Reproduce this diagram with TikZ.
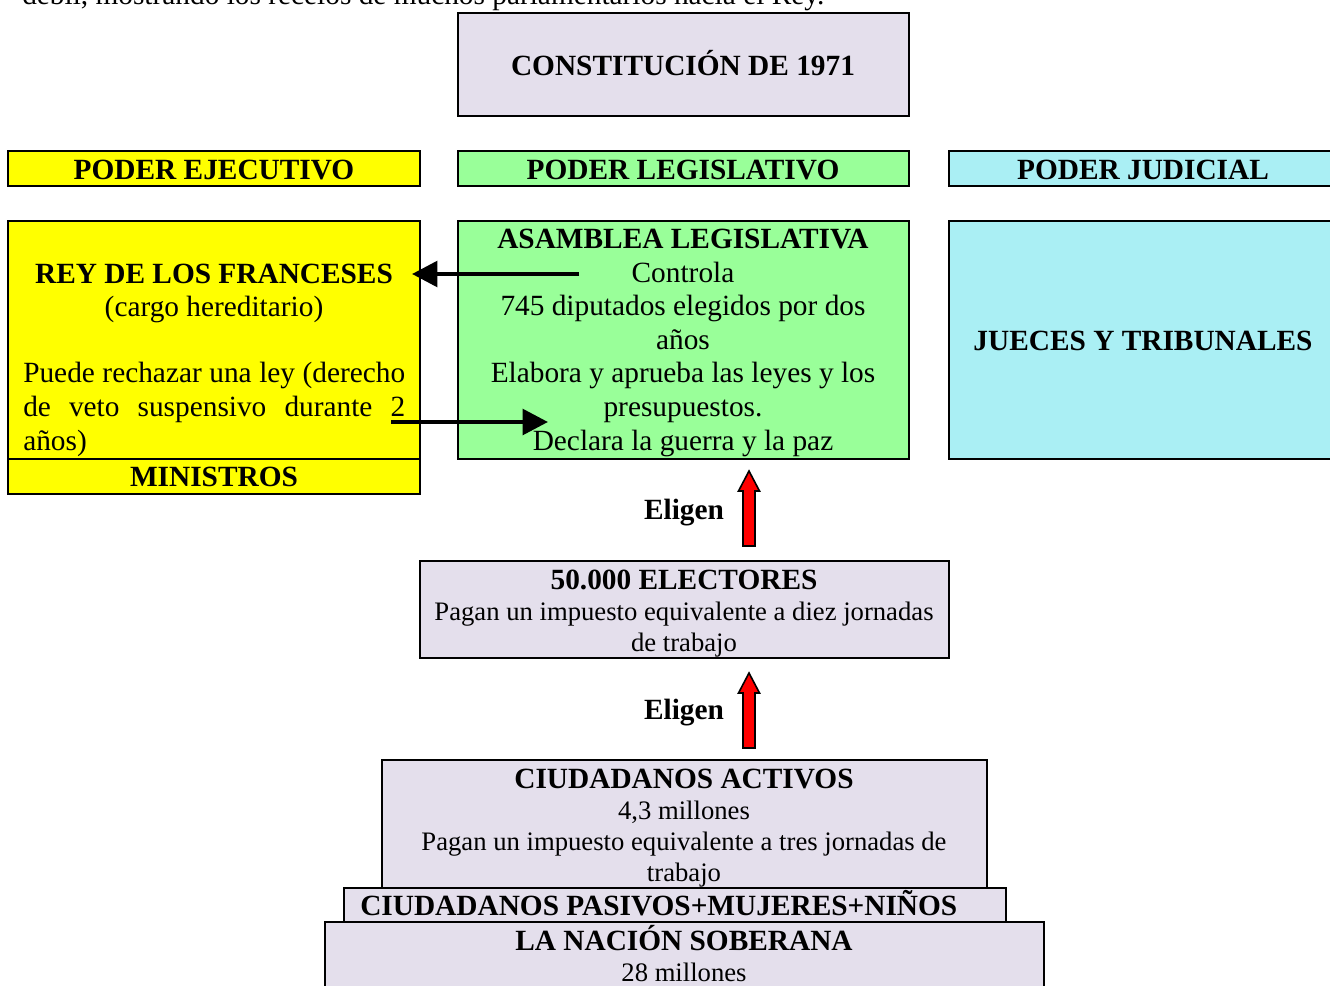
\documentclass[tikz,border=0pt]{standalone}
\usepackage{fontspec}
\setmainfont{Liberation Serif}
\usetikzlibrary{arrows.meta,fit}
\definecolor{lavanda}{HTML}{E4DFEC}
\definecolor{verde}{HTML}{99FF99}
\definecolor{celeste}{HTML}{AAEFF4}
\definecolor{amarillo}{HTML}{FFFF00}
\tikzset{
  caja/.style={draw, line width=1.4pt, inner sep=0pt},
  txt/.style={font=\fontsize{22}{25.2}\selectfont, inner sep=0pt},
  txtb/.style={font=\bfseries\fontsize{22}{25.2}\selectfont, inner sep=0pt},
  txts/.style={font=\fontsize{20}{23}\selectfont, inner sep=0pt},
  flecha/.style={line width=3.4pt, -{Triangle[length=19pt,width=19pt]}},
  elige/.pic={\draw[fill=red, line width=1.2pt] (-6,0) -- (-6,-55) -- (-10.5,-55)
    -- (0,-75) -- (10.5,-55) -- (6,-55) -- (6,0) -- cycle;}
}
\begin{document}
\begin{tikzpicture}[x=0.75pt,y=-0.75pt]
\useasboundingbox (0,0) rectangle (1330,985);
\clip (0,0) rectangle (1330,985);
\node[txt, anchor=base west] (intro) at (22,4) {débil, mostrando los recelos de muchos parlamentarios hacia el Rey.};

\node[caja, fill=lavanda, fit={(458,13) (909,116)}] (const) {};
\node[txtb, anchor=base] (constT) at (683,75) {CONSTITUCIÓN DE 1971};

\node[caja, fill=amarillo, fit={(8,151) (420,186)}] (ejec) {};
\node[caja, fill=verde, fit={(458,151) (909,186)}] (legis) {};
\node[caja, fill=celeste, fit={(949,151) (1338,186)}] (judic) {};
\node[txtb, anchor=base] (ejecT) at (214,179) {PODER EJECUTIVO};
\node[txtb, anchor=base] (legisT) at (683,179) {PODER LEGISLATIVO};
\node[txtb, anchor=base] (judicT) at (1143,179) {PODER JUDICIAL};

\node[caja, fill=amarillo, fit={(8,221) (420,459)}] (rey) {};
\node[caja, fill=amarillo, fit={(8,459) (420,494)}] (minis) {};
\node[caja, fill=verde, fit={(458,221) (909,459)}] (asam) {};
\node[caja, fill=celeste, fit={(949,221) (1338,459)}] (jueces) {};

\node[txtb, anchor=base] (reyT) at (214,283) {REY DE LOS FRANCESES};
\node[txt, anchor=base] (reyC) at (214,316) {(cargo hereditario)};
\node[txt, anchor=base west, align=left] (reyV) at (23,450)
  {\makebox[286.5pt][s]{Puede rechazar una ley (derecho}\\
   \makebox[286.5pt][s]{de veto suspensivo durante 2}\\años)};
\node[txtb, anchor=base] (minisT) at (214,486) {MINISTROS};

\node[txtb, anchor=base] (asamT) at (683,248) {ASAMBLEA LEGISLATIVA};
\node[txt, anchor=base, align=center] (asamB) at (683,450) {Controla\\745 diputados elegidos por dos\\años\\Elabora y aprueba las leyes y los\\presupuestos.\\Declara la guerra y la paz};

\node[txtb, anchor=base] (juecesT) at (1143,350) {JUECES Y TRIBUNALES};

\node[caja, fill=lavanda, fit={(420,561) (949,658)}] (elect) {};
\node[txtb, anchor=base] (electT) at (684,589) {50.000 ELECTORES};
\node[txts, anchor=base, align=center] (electB) at (684,651) {Pagan un impuesto equivalente a diez jornadas\\de trabajo};

\node[caja, fill=lavanda, fit={(382,760) (987,888)}] (activ) {};
\node[txtb, anchor=base] (activT) at (684,788) {CIUDADANOS ACTIVOS};
\node[txts, anchor=base, align=center] (activB) at (684,881) {4,3 millones\\Pagan un impuesto equivalente a tres jornadas de\\trabajo};

\node[caja, fill=lavanda, fit={(344,888) (1006,922)}] (pasiv) {};
\node[txtb, anchor=base west] (pasivT) at (360,915) {CIUDADANOS PASIVOS+MUJERES+NIÑOS};

\node[caja, fill=lavanda, fit={(325,922) (1044,995)}] (nacion) {};
\node[txtb, anchor=base] (nacionT) at (684,950) {LA NACIÓN SOBERANA};
\node[txts, anchor=base] (nacionB) at (684,981) {28 millones};

\coordinate (ctrlIni) at (579,274);
\coordinate (ctrlFin) at (412,274);
\draw[flecha] (ctrlIni) -- (ctrlFin);
\coordinate (vetoIni) at (391,422);
\coordinate (vetoFin) at (548,422);
\draw[flecha] (vetoIni) -- (vetoFin);

\pic (sube1) at (749,546) {elige};
\node[txtb, anchor=base] (elige1) at (684,519) {Eligen};
\pic (sube2) at (749,748) {elige};
\node[txtb, anchor=base] (elige2) at (684,719) {Eligen};
\end{tikzpicture}
\end{document}
